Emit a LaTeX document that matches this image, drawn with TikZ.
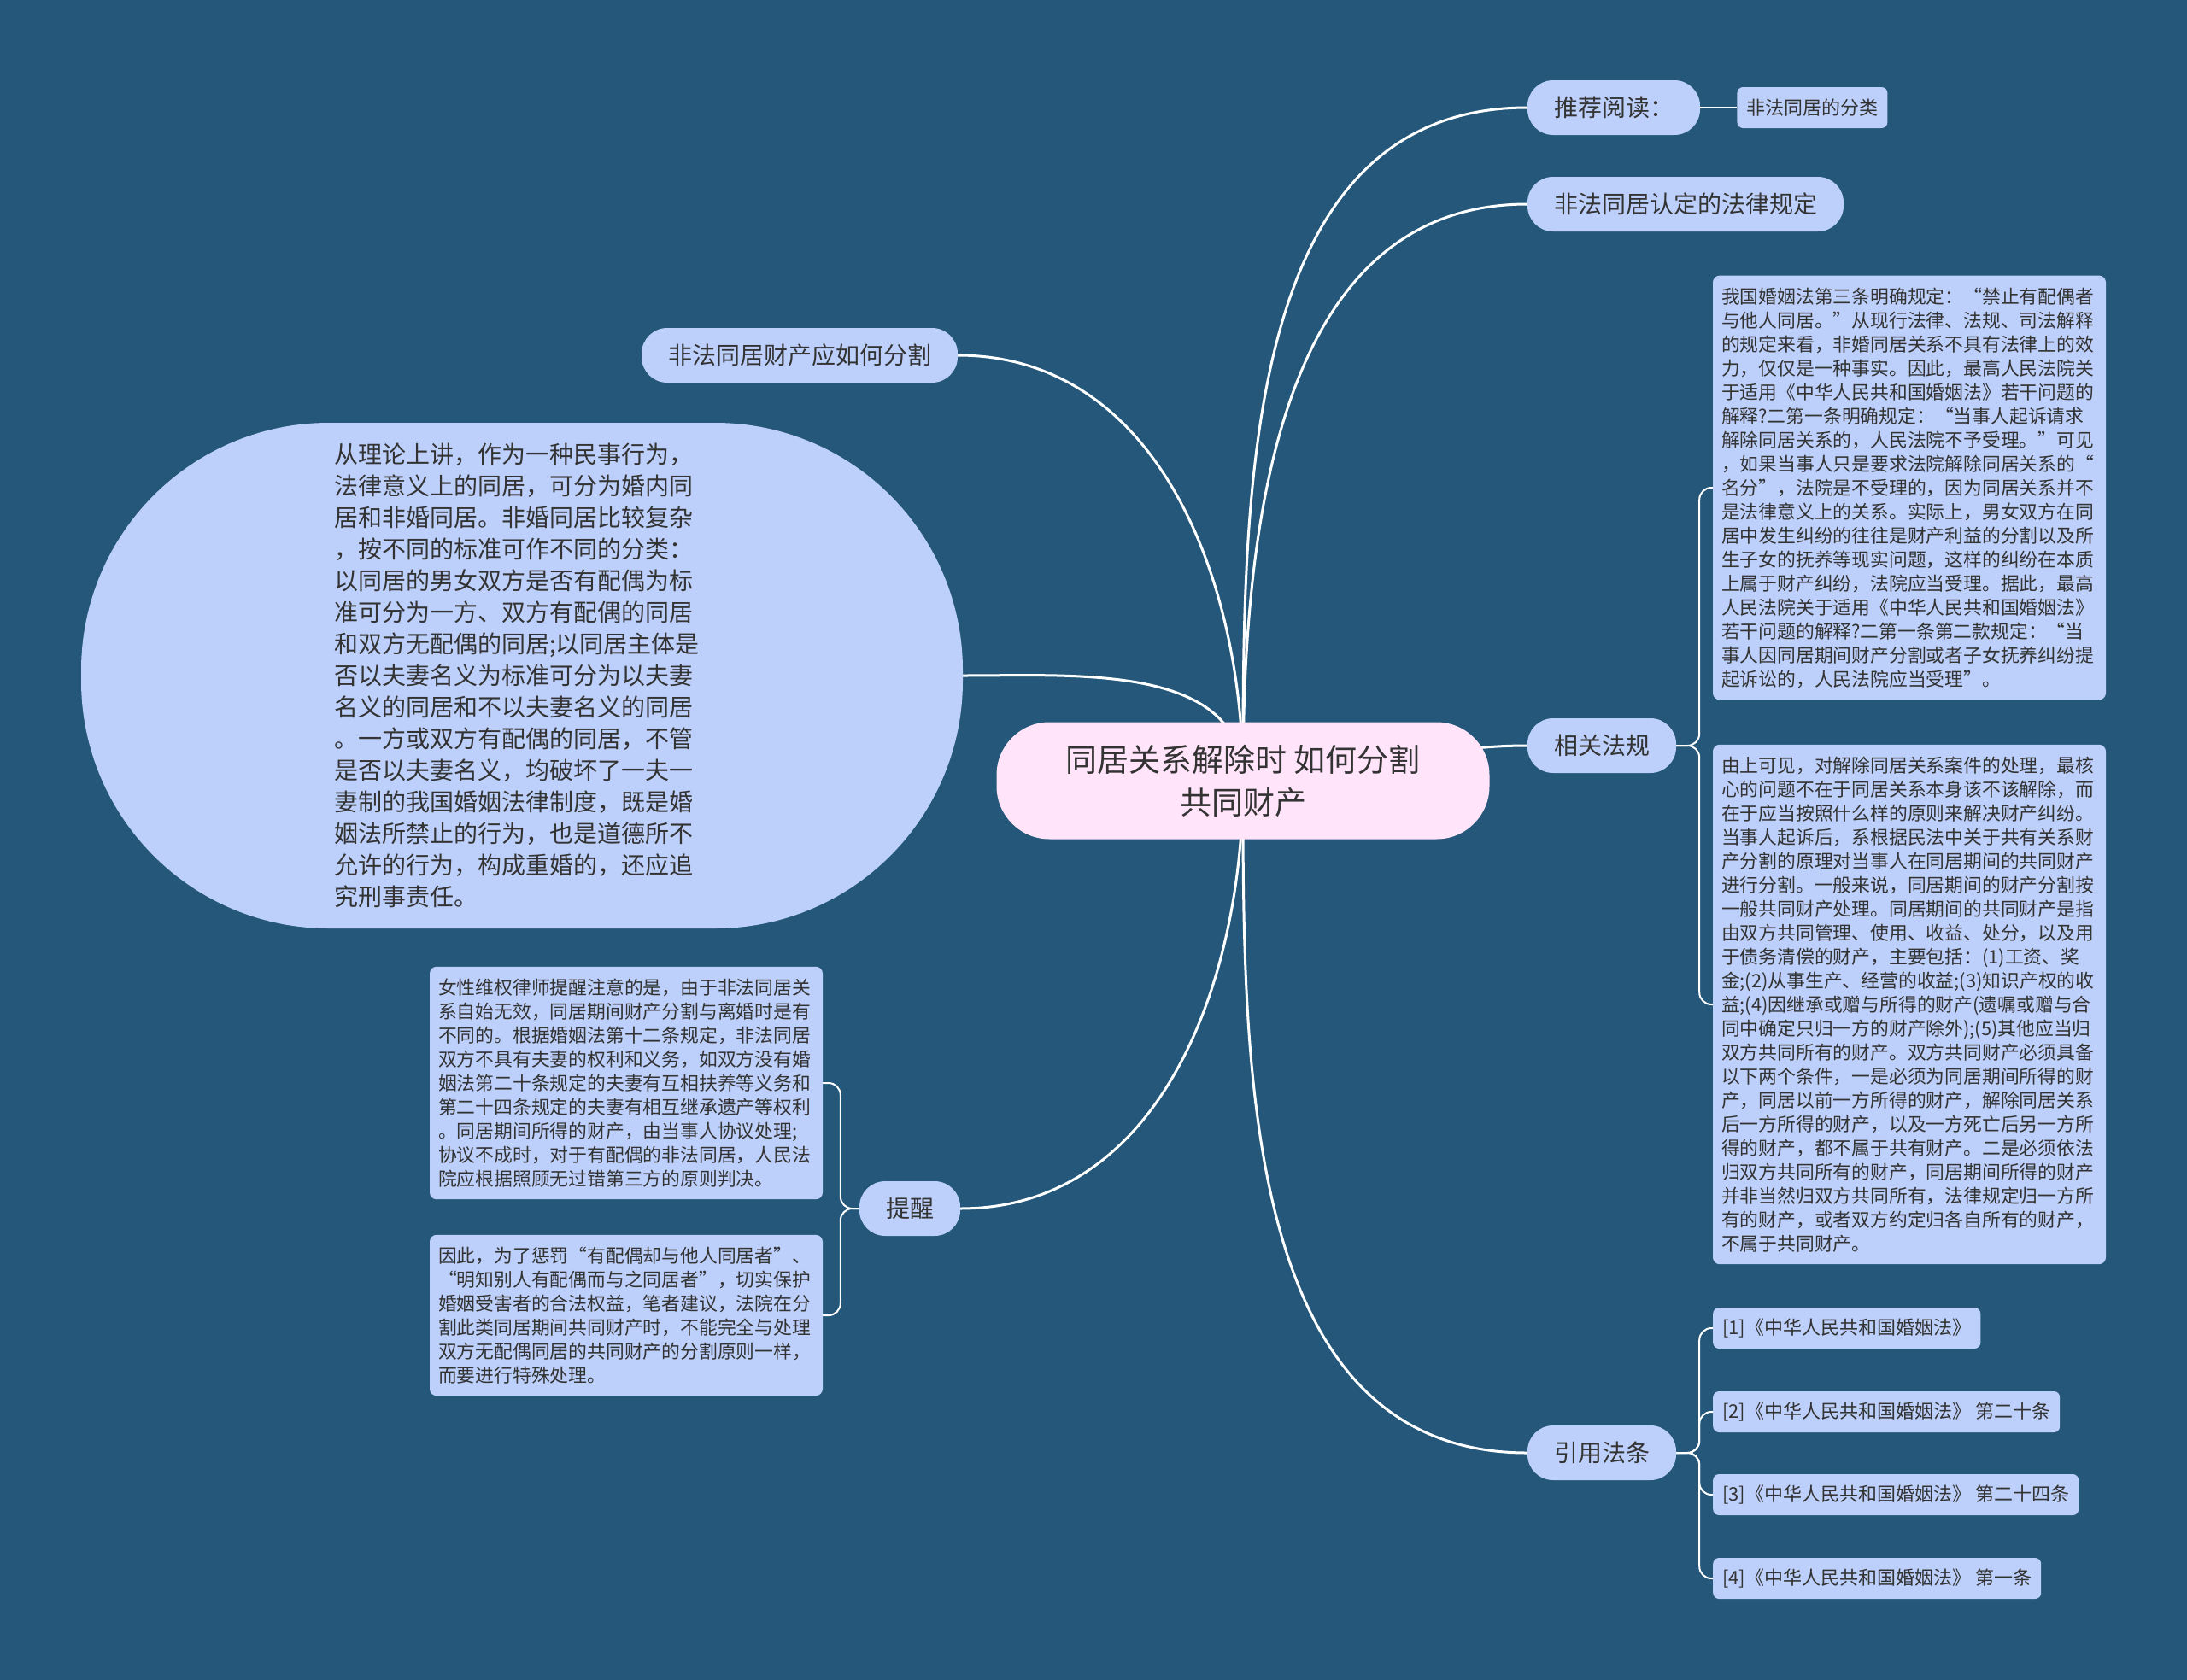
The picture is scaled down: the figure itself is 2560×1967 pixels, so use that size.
\documentclass[tikz,border=0pt]{standalone}
\usepackage{fontspec}
\setmainfont{Noto Sans CJK SC}
\usetikzlibrary{positioning}
\definecolor{bgblue}{RGB}{36,87,121}
\definecolor{nodeblue}{RGB}{189,208,251}
\definecolor{rootpink}{RGB}{255,228,250}
\definecolor{ink}{RGB}{51,51,51}
\pgfdeclarelayer{back}
\pgfdeclarelayer{wires}
\pgfsetlayers{back,wires,main}
\tikzset{
  rootnode/.style={fill=rootpink, text=ink, rounded corners=62pt, minimum width=577pt,
    minimum height=137pt, align=center, font=\fontsize{37}{50}\selectfont},
  topic/.style={fill=nodeblue, text=ink, rounded corners=30pt, minimum height=64pt,
    inner xsep=31pt, font=\fontsize{28}{34}\selectfont},
  leaf/.style={fill=nodeblue, text=ink, rounded corners=7pt, minimum height=48pt,
    inner xsep=11pt, font=\fontsize{22}{26}\selectfont},
  note/.style={fill=nodeblue, text=ink, rounded corners=8pt, text width=440pt,
    inner xsep=10pt, inner ysep=14pt, align=left, font=\fontsize{21.8}{28}\selectfont},
  bubble/.style={fill=nodeblue, text=ink, rounded corners=290pt, minimum width=1032pt,
    minimum height=592pt, text width=440pt, align=left, font=\fontsize{28}{37}\selectfont},
  wire/.style={draw=white, line width=3pt},
  twig/.style={draw=white, line width=2pt, rounded corners=14pt},
}

\begin{document}
\begin{tikzpicture}[x=1pt,y=1pt]
  \useasboundingbox (0,0) rectangle (2560,-1967);
  \begin{pgfonlayer}{back}
    \fill[bgblue] (0,0) rectangle (2560,-1967);
  \end{pgfonlayer}

  % centre
  \node[rootnode] (root) at (1455,-914) {同居关系解除时 如何分割\\共同财产};

  % right branches
  \node[topic] (tj) at (1889,-126) {推荐阅读：};
  \node[leaf, right=43pt of tj] (tjitem) {非法同居的分类};
  \node[topic] (rd) at (1973,-239) {非法同居认定的法律规定};
  \node[topic] (xg) at (1875,-873) {相关法规};
  \node[note] (law1) at (2235,-571) {我国婚姻法第三条明确规定：“禁止有配偶者\\
    与他人同居。”从现行法律、法规、司法解释\\
    的规定来看，非婚同居关系不具有法律上的效\\
    力，仅仅是一种事实。因此，最高人民法院关\\
    于适用《中华人民共和国婚姻法》若干问题的\\
    解释?二第一条明确规定：“当事人起诉请求\\
    解除同居关系的，人民法院不予受理。”可见\\
    ，如果当事人只是要求法院解除同居关系的“\\
    名分”，法院是不受理的，因为同居关系并不\\
    是法律意义上的关系。实际上，男女双方在同\\
    居中发生纠纷的往往是财产利益的分割以及所\\
    生子女的抚养等现实问题，这样的纠纷在本质\\
    上属于财产纠纷，法院应当受理。据此，最高\\
    人民法院关于适用《中华人民共和国婚姻法》\\
    若干问题的解释?二第一条第二款规定：“当\\
    事人因同居期间财产分割或者子女抚养纠纷提\\
    起诉讼的，人民法院应当受理”。};
  \node[note] (law2) at (2235,-1176) {由上可见，对解除同居关系案件的处理，最核\\
    心的问题不在于同居关系本身该不该解除，而\\
    在于应当按照什么样的原则来解决财产纠纷。\\
    当事人起诉后，系根据民法中关于共有关系财\\
    产分割的原理对当事人在同居期间的共同财产\\
    进行分割。一般来说，同居期间的财产分割按\\
    一般共同财产处理。同居期间的共同财产是指\\
    由双方共同管理、使用、收益、处分，以及用\\
    于债务清偿的财产，主要包括：(1)工资、奖\\
    金;(2)从事生产、经营的收益;(3)知识产权的收\\
    益;(4)因继承或赠与所得的财产(遗嘱或赠与合\\
    同中确定只归一方的财产除外);(5)其他应当归\\
    双方共同所有的财产。双方共同财产必须具备\\
    以下两个条件，一是必须为同居期间所得的财\\
    产，同居以前一方所得的财产，解除同居关系\\
    后一方所得的财产，以及一方死亡后另一方所\\
    得的财产，都不属于共有财产。二是必须依法\\
    归双方共同所有的财产，同居期间所得的财产\\
    并非当然归双方共同所有，法律规定归一方所\\
    有的财产，或者双方约定归各自所有的财产，\\
    不属于共同财产。};
  \node[topic] (yy) at (1875,-1701) {引用法条};
  \node[leaf, anchor=west] (ref1) at (2005,-1555) {[1]《中华人民共和国婚姻法》};
  \node[leaf, anchor=west] (ref2) at (2005,-1653) {[2]《中华人民共和国婚姻法》 第二十条};
  \node[leaf, anchor=west] (ref3) at (2005,-1750) {[3]《中华人民共和国婚姻法》 第二十四条};
  \node[leaf, anchor=west] (ref4) at (2005,-1848) {[4]《中华人民共和国婚姻法》 第一条};

  % left branches
  \node[topic] (fz) at (936,-416) {非法同居财产应如何分割};
  \node[bubble] (ell) at (611,-791) {从理论上讲，作为一种民事行为，\\
    法律意义上的同居，可分为婚内同\\
    居和非婚同居。非婚同居比较复杂\\
    ，按不同的标准可作不同的分类：\\
    以同居的男女双方是否有配偶为标\\
    准可分为一方、双方有配偶的同居\\
    和双方无配偶的同居;以同居主体是\\
    否以夫妻名义为标准可分为以夫妻\\
    名义的同居和不以夫妻名义的同居\\
    。一方或双方有配偶的同居，不管\\
    是否以夫妻名义，均破坏了一夫一\\
    妻制的我国婚姻法律制度，既是婚\\
    姻法所禁止的行为，也是道德所不\\
    允许的行为，构成重婚的，还应追\\
    究刑事责任。};
  \node[topic] (tx) at (1065,-1415) {提醒};
  \node[note] (txa) at (733,-1268) {女性维权律师提醒注意的是，由于非法同居关\\
    系自始无效，同居期间财产分割与离婚时是有\\
    不同的。根据婚姻法第十二条规定，非法同居\\
    双方不具有夫妻的权利和义务，如双方没有婚\\
    姻法第二十条规定的夫妻有互相扶养等义务和\\
    第二十四条规定的夫妻有相互继承遗产等权利\\
    。同居期间所得的财产，由当事人协议处理;\\
    协议不成时，对于有配偶的非法同居，人民法\\
    院应根据照顾无过错第三方的原则判决。};
  \node[note] (txb) at (733,-1540) {因此，为了惩罚“有配偶却与他人同居者”、\\
    “明知别人有配偶而与之同居者”，切实保护\\
    婚姻受害者的合法权益，笔者建议，法院在分\\
    割此类同居期间共同财产时，不能完全与处理\\
    双方无配偶同居的共同财产的分割原则一样，\\
    而要进行特殊处理。};

  % connectors
  \begin{pgfonlayer}{wires}
    \draw[wire] (root.center) to[out=90,in=180] (tj.west);
    \draw[wire] (root.center) to[out=90,in=180] (rd.west);
    \draw[wire] (root.center) to[out=0,in=180] (xg.west);
    \draw[wire] (root.center) to[out=-90,in=180] (yy.west);
    \draw[wire] (root.center) to[out=90,in=0] (fz.east);
    \draw[wire] (root.center) to[out=90,in=0] (ell.east);
    \draw[wire] (root.center) to[out=-90,in=0] (tx.east);
    \draw[twig] (tj.east) -- (tjitem.west);
    \foreach \n in {law1,law2}
      \draw[twig] (xg.east) -- ++(27,0) |- (\n.west);
    \foreach \n in {ref1,ref2,ref3,ref4}
      \draw[twig] (yy.east) -- ++(27,0) |- (\n.west);
    \foreach \n in {txa,txb}
      \draw[twig] (tx.west) -- ++(-22,0) |- (\n.east);
  \end{pgfonlayer}
\end{tikzpicture}
\end{document}
